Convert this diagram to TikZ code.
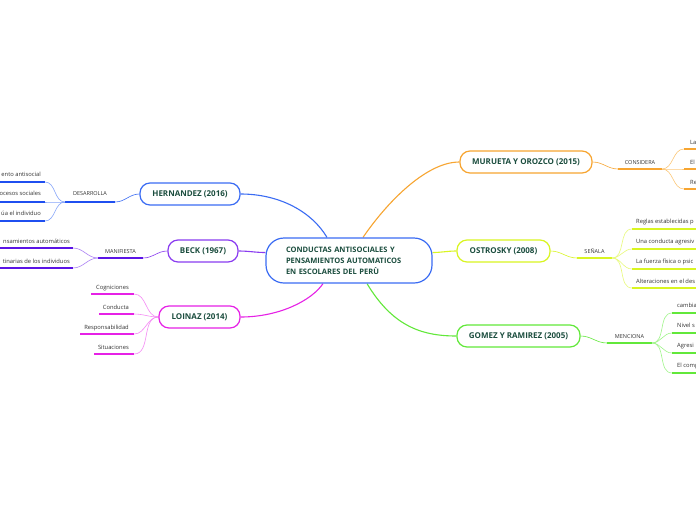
\documentclass[tikz,border=0pt]{standalone}
\usepackage{fontspec}
\setmainfont{Open Sans}
\usetikzlibrary{backgrounds}
\definecolor{cblue}{HTML}{3B6CF3}
\definecolor{cblueD}{HTML}{1F4FF0}
\definecolor{cblueL}{HTML}{86A5FA}
\definecolor{cpurp}{HTML}{8A3CF0}
\definecolor{cpurpD}{HTML}{5B14E6}
\definecolor{cpurpL}{HTML}{AD82F5}
\definecolor{cmag}{HTML}{E621E6}
\definecolor{cmagL}{HTML}{F58AF5}
\definecolor{corange}{HTML}{F7A531}
\definecolor{corangeL}{HTML}{FCC87A}
\definecolor{cyel}{HTML}{D9F521}
\definecolor{cyelL}{HTML}{E8FA7A}
\definecolor{cgreen}{HTML}{62E83A}
\definecolor{cgreenL}{HTML}{A0F58A}
\definecolor{txt}{HTML}{1B4D3E}
\definecolor{lbltxt}{HTML}{333333}
\begin{document}
\begin{tikzpicture}[x=1pt,y=-1pt,
  box/.style={draw, rounded corners=10pt, line width=1.2pt, fill=white, text=txt,
    font=\fontsize{8}{9.6}\selectfont\bfseries, minimum height=22pt, inner sep=0pt},
  lbl/.style={font=\fontsize{5.5}{6}\selectfont, text=lbltxt, inner sep=0pt, anchor=base},
  leafL/.style={font=\fontsize{5.8}{7}\selectfont, text=lbltxt, inner sep=0pt, anchor=base east},
  leafR/.style={font=\fontsize{5.8}{7}\selectfont, text=lbltxt, inner sep=0pt, anchor=base west},
  uline/.style={line width=1.3pt},
  thinl/.style={line width=0.6pt},
  conn/.style={line width=1.1pt}]
\useasboundingbox (0,0) rectangle (696,520);

% central
\node[draw=cblue, rounded corners=18pt, line width=1.2pt, fill=white, text=txt,
  font=\fontsize{7.5}{11}\selectfont\bfseries, align=left, text width=126pt,
  inner xsep=20pt, inner ysep=0pt, minimum height=45pt] (c) at (349,260.5)
  {CONDUCTAS ANTISOCIALES Y\\PENSAMIENTOS AUTOMATICOS\\EN ESCOLARES DEL PERÙ};

% main boxes
\node[box, draw=cblue, minimum width=100pt] (hern) at (190,194) {HERNANDEZ (2016)};
\node[box, draw=cpurp, minimum width=70pt] (beck) at (203,251) {BECK (1967)};
\node[box, draw=cmag, minimum width=81pt] (loi) at (199.5,317) {LOINAZ (2014)};
\node[box, draw=corange, minimum width=132pt] (mur) at (526,162) {MURUETA Y OROZCO (2015)};
\node[box, draw=cyel, minimum width=93pt] (ost) at (503.5,251) {OSTROSKY (2008)};
\node[box, draw=cgreen, minimum width=123pt] (gom) at (518.5,336) {GOMEZ Y RAMIREZ (2005)};

% labels
\node[lbl] (des) at (90,195.5) {DESARROLLA};
\node[lbl] (man) at (120.5,253) {MANIFIESTA};
\node[lbl] (con) at (640,164) {CONSIDERA};
\node[lbl] (sen) at (594.5,253) {SEÑALA};
\node[lbl] (men) at (629.5,338) {MENCIONA};

% label underline coordinates
\coordinate (desL) at (65,202); \coordinate (desR) at (115,202);
\coordinate (manL) at (98,258); \coordinate (manR) at (143,258);
\coordinate (conL) at (618,169); \coordinate (conR) at (662,169);
\coordinate (senL) at (577,258); \coordinate (senR) at (612,258);
\coordinate (menL) at (607,343); \coordinate (menR) at (652,343);

% leaves left
\node[leafL] (h1) at (41,176) {ento antisocial};
\node[leafL] (h2) at (41,195.5) {ocesos sociales};
\node[leafL] (h3) at (41,215) {úa el individuo};
\coordinate (h1a) at (0,182); \coordinate (h1b) at (45,182);
\coordinate (h2a) at (0,202); \coordinate (h2b) at (45,202);
\coordinate (h3a) at (0,221); \coordinate (h3b) at (45,221);

\node[leafL] (b1) at (70,243) {nsamientos automáticos};
\node[leafL] (b2) at (70,263) {tinarias de los individuos};
\coordinate (b1a) at (0,248); \coordinate (b1b) at (73,248);
\coordinate (b2a) at (0,268); \coordinate (b2b) at (73,268);

\node[leafL] (l1) at (129,289) {Cogniciones};
\node[leafL] (l2) at (129,309) {Conducta};
\node[leafL] (l3) at (129,329) {Responsabilidad};
\node[leafL] (l4) at (129,349) {Situaciones};
\coordinate (l1a) at (91,294); \coordinate (l1b) at (134,294);
\coordinate (l2a) at (99,314); \coordinate (l2b) at (134,314);
\coordinate (l3a) at (80,334); \coordinate (l3b) at (134,334);
\coordinate (l4a) at (94,354); \coordinate (l4b) at (134,354);

% leaves right
\node[leafR] (m1) at (690,144) {La};
\node[leafR] (m2) at (690,164) {El};
\node[leafR] (m3) at (690,184) {Re};
\coordinate (m1a) at (684,149); \coordinate (m1b) at (696,149);
\coordinate (m2a) at (684,169); \coordinate (m2b) at (696,169);
\coordinate (m3a) at (684,189); \coordinate (m3b) at (696,189);

\node[leafR] (o1) at (636,223) {Reglas establecidas p};
\node[leafR] (o2) at (636,243) {Una conducta agresiv};
\node[leafR] (o3) at (636,263) {La fuerza física o psic};
\node[leafR] (o4) at (636,283) {Alteraciones en el des};
\coordinate (o1a) at (632,229); \coordinate (o1b) at (696,229);
\coordinate (o2a) at (632,249); \coordinate (o2b) at (696,249);
\coordinate (o3a) at (632,269); \coordinate (o3b) at (696,269);
\coordinate (o4a) at (632,288); \coordinate (o4b) at (696,288);

\node[leafR] (g1) at (677,307) {cambia};
\node[leafR] (g2) at (677,327) {Nivel s};
\node[leafR] (g3) at (677,347) {Agresi};
\node[leafR] (g4) at (677,367) {El comp};
\coordinate (g1a) at (672,313); \coordinate (g1b) at (696,313);
\coordinate (g2a) at (672,333); \coordinate (g2b) at (696,333);
\coordinate (g3a) at (672,353); \coordinate (g3b) at (696,353);
\coordinate (g4a) at (672,373); \coordinate (g4b) at (696,373);

\begin{scope}[on background layer]
\fill[white] (0,0) rectangle (696,520);
% central connectors
\draw[cblue, conn] (hern.east) .. controls (280,194) and (312,212) .. ([xshift=-22pt]c.north);
\draw[cpurp, conn] (beck.east) to[out=0,in=180] ([yshift=8pt]c.west);
\draw[cmag, conn] (loi.east) .. controls (280,317) and (312,300) .. ([xshift=-26pt]c.south);
\draw[corange, conn] ([xshift=14pt]c.north) .. controls (385,205) and (425,162) .. (mur.west);
\draw[cyel, conn] ([yshift=8pt]c.east) to[out=0,in=180] (ost.west);
\draw[cgreen, conn] ([xshift=18pt]c.south) .. controls (392,325) and (420,336) .. (gom.west);

% box to label
\draw[cblue, thinl] (hern.west) to[out=180,in=0] (desR);
\draw[cpurp, thinl] (beck.west) to[out=180,in=0] (manR);
\draw[corange, thinl] (mur.east) to[out=0,in=180] (conL);
\draw[cyel, thinl] (ost.east) to[out=0,in=180] (senL);
\draw[cgreen, thinl] (gom.east) to[out=0,in=180] (menL);

% label underlines
\draw[cblueD, uline] (desL) -- (desR);
\draw[cpurpD, uline] (manL) -- (manR);
\draw[corange, uline] (conL) -- (conR);
\draw[cyel, uline] (senL) -- (senR);
\draw[cgreen, uline] (menL) -- (menR);

% branches
\foreach \p in {h1,h2,h3} {\draw[cblueL, thinl] (desL) to[out=180,in=0] (\p b); \draw[cblueD, uline] (\p a) -- (\p b);}
\foreach \p in {b1,b2} {\draw[cpurpL, thinl] (manL) to[out=180,in=0] (\p b); \draw[cpurpD, uline] (\p a) -- (\p b);}
\foreach \p in {l1,l2,l3,l4} {\draw[cmagL, thinl] (loi.west) to[out=180,in=0] (\p b); \draw[cmag, uline] (\p a) -- (\p b);}
\foreach \p in {m1,m2,m3} {\draw[corangeL, thinl] (conR) to[out=0,in=180] (\p a); \draw[corange, uline] (\p a) -- (\p b);}
\foreach \p in {o1,o2,o3,o4} {\draw[cyelL, thinl] (senR) to[out=0,in=180] (\p a); \draw[cyel, uline] (\p a) -- (\p b);}
\foreach \p in {g1,g2,g3,g4} {\draw[cgreenL, thinl] (menR) to[out=0,in=180] (\p a); \draw[cgreen, uline] (\p a) -- (\p b);}
\end{scope}
\end{tikzpicture}
\end{document}
